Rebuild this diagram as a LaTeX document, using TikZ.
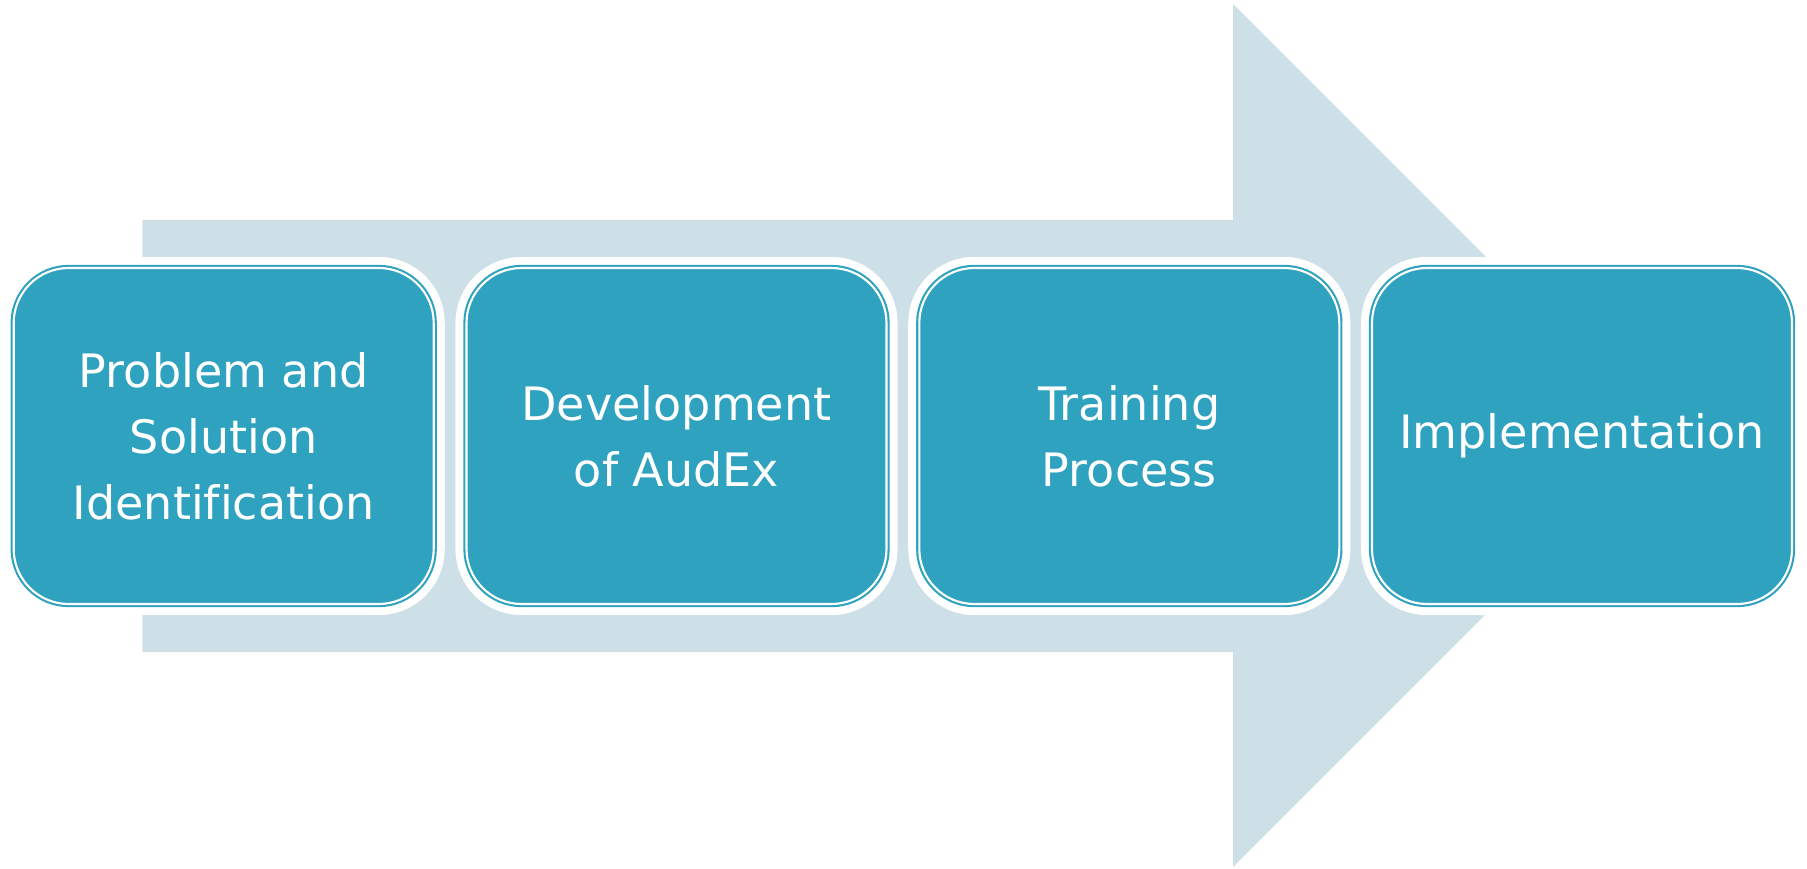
\documentclass[tikz,border=0pt]{standalone}
\usepackage{fontspec}
\setmainfont{DejaVu Sans}[Ligatures=NoCommon]
\usepackage{tikz}
\usetikzlibrary{positioning,calc}
\definecolor{stageteal}{RGB}{46,162,191}
\definecolor{flowgray}{RGB}{206,224,231}
\tikzset{
    stage/.style={rounded corners=0.55cm,minimum width=4.2cm,minimum height=3.36cm,align=center,
        fill=stageteal,draw=stageteal,line width=0.6pt,double=white,double distance=0.6pt,
        preaction={draw=white,line width=6.3pt},text=white,outer sep=0pt,
        font=\fontsize{13.1}{18.8}\selectfont},
    flow/.style={fill=flowgray,draw=none},
}

\begin{document}
\begin{tikzpicture}
                \useasboundingbox (0,0) rectangle (18.07,8.68);
% --- Big background arrow ---
                \fill[flow] (1.423,2.16) -- (1.423,6.48) -- (12.33,6.48) -- (12.33,8.64)
                    -- (16.645,4.325) -- (12.33,0.01) -- (12.33,2.16) -- cycle;
% --- Stages ---
                \node[stage] (problem) at (2.237,4.32) {Problem and\\Solution\\Identification};
                \node[stage] (audex) at (6.765,4.32) {Development\\of AudEx};
                \node[stage] (training) at (11.293,4.32) {Training\\Process};
                \node[stage] (implement) at (15.82,4.32) {Implementation};
            \end{tikzpicture}
\end{document}
